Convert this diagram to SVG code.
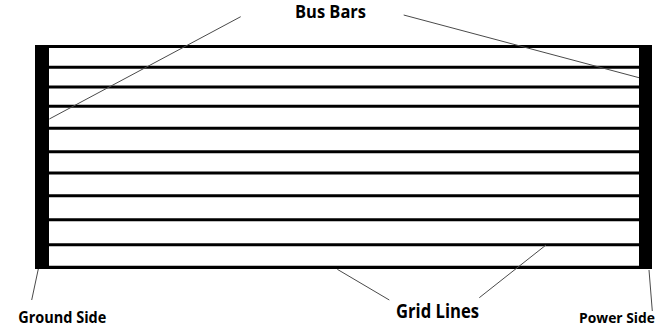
<svg xmlns="http://www.w3.org/2000/svg" width="659" height="330" viewBox="0 0 659 330">
<style>
.grid{stroke:#000;stroke-width:3}
.bar{fill:#000}
.lead{stroke:#4a4a4a;stroke-width:1;fill:none}
.lbl{font-family:"Open Sans","Noto Sans",sans-serif;font-weight:bold;fill:#000}
</style>
<rect width="659" height="330" fill="#fff"/>
<g id="panel">
<g id="grid-lines">
<line class="grid" x1="35" y1="46.5" x2="652" y2="46.5"/>
<line class="grid" x1="49" y1="67.3" x2="639" y2="67.3"/>
<line class="grid" x1="49" y1="87" x2="639" y2="87"/>
<line class="grid" x1="49" y1="106.3" x2="639" y2="106.3"/>
<line class="grid" x1="49" y1="128.3" x2="639" y2="128.3"/>
<line class="grid" x1="49" y1="151.7" x2="639" y2="151.7"/>
<line class="grid" x1="49" y1="173" x2="639" y2="173"/>
<line class="grid" x1="49" y1="195.7" x2="639" y2="195.7"/>
<line class="grid" x1="49" y1="219.7" x2="639" y2="219.7"/>
<line class="grid" x1="49" y1="244.7" x2="639" y2="244.7"/>
<line class="grid" x1="35" y1="267.4" x2="652" y2="267.4" style="stroke-width:3.4"/>
</g>
<g id="ground-bar"><rect class="bar" x="35" y="45" width="14" height="224"/></g>
<g id="power-bar"><rect class="bar" x="639" y="45" width="13" height="224"/></g>
</g>
<g id="connectors">
<line class="lead" x1="240.7" y1="16.7" x2="49.3" y2="119"/>
<line class="lead" x1="403.7" y1="15" x2="639" y2="77.7"/>
<line class="lead" x1="38.3" y1="269" x2="31.7" y2="300"/>
<line class="lead" x1="649" y1="270" x2="652.3" y2="311"/>
<line class="lead" x1="337.3" y1="269.3" x2="389.3" y2="300"/>
<line class="lead" x1="546" y1="245" x2="479.3" y2="297.7"/>
</g>
<g id="label-bus-bars"><text class="lbl" x="295" y="18.3" font-size="17.5" textLength="71" lengthAdjust="spacingAndGlyphs">Bus Bars</text></g>
<g id="label-ground-side"><text class="lbl" x="18.3" y="323.3" font-size="16" textLength="88" lengthAdjust="spacingAndGlyphs">Ground Side</text></g>
<g id="label-grid-lines"><text class="lbl" x="396" y="318.3" font-size="19.5" textLength="83" lengthAdjust="spacingAndGlyphs">Grid Lines</text></g>
<g id="label-power-side"><text class="lbl" x="655" y="322.5" font-size="15" text-anchor="end" textLength="76" lengthAdjust="spacingAndGlyphs">Power Side</text></g>
</svg>
